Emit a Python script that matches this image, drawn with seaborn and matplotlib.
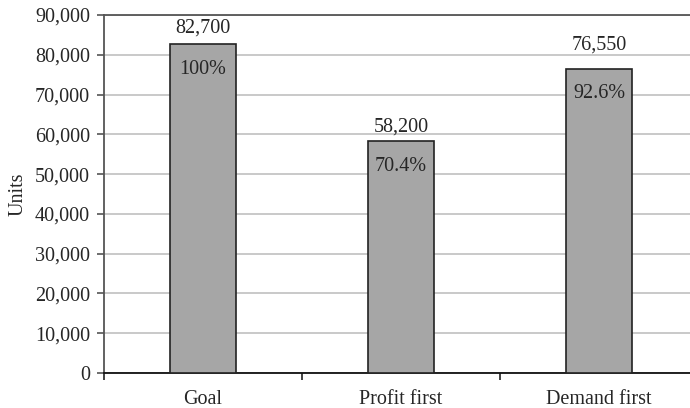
import matplotlib
matplotlib.use("Agg")
import matplotlib.pyplot as plt
import seaborn as sns
import pandas as pd
from matplotlib.ticker import FuncFormatter

categories = ["Goal", "Profit first", "Demand first"]
units = [82700, 58200, 76550]
percent_labels = ["100%", "70.4%", "92.6%"]

# vertical gap (points) between bar top and the value label baseline
value_label_gap = [8, 7.5, 14]

sns.set_style("white")
plt.rcParams["font.family"] = ["Liberation Serif", "DejaVu Serif"]
FS = 14.5

df = pd.DataFrame({"scenario": categories, "units": units})

fig = plt.figure(figsize=(6.9, 4.08), dpi=100)
ax = fig.add_axes([104 / 690, 35 / 408, 594 / 690, 358 / 408])

sns.barplot(data=df, x="scenario", y="units", color="#a6a6a6", width=0.33,
            edgecolor="#222222", linewidth=1.2, saturation=1, ax=ax, zorder=3)

ax.set_ylim(0, 90000)
ax.set_yticks(range(0, 90001, 10000))
ax.yaxis.set_major_formatter(FuncFormatter(lambda v, p: f"{int(v):,}"))
ax.set_xlim(-0.5, 2.5)
ax.grid(axis="y", color="#c0c0c0", linewidth=1.2, zorder=0)
ax.set_axisbelow(True)

ax.spines["right"].set_visible(False)
ax.spines["top"].set_color("#555555")
ax.spines["top"].set_linewidth(1.3)
ax.spines["left"].set_color("#555555")
ax.spines["left"].set_linewidth(1.3)
ax.spines["bottom"].set_color("#111111")
ax.spines["bottom"].set_linewidth(1.3)

ax.set_xlabel("")
ax.set_ylabel("Units", fontsize=FS, labelpad=5)

# category names centred under the bars, tick marks on the boundaries
ax.set_xticks([0, 1, 2])
ax.set_xticklabels(categories, fontsize=FS)
ax.tick_params(axis="x", which="major", length=0, pad=12, bottom=True)
ax.set_xticks([-0.5, 0.5, 1.5, 2.5], minor=True)
ax.tick_params(axis="x", which="minor", length=5, width=1.3, color="#333333",
               direction="out", bottom=True)
ax.tick_params(axis="y", length=5, width=1.2, color="#555555", direction="out",
               labelsize=FS, pad=5, left=True)

for i, (v, pct, gap) in enumerate(zip(units, percent_labels, value_label_gap)):
    ax.annotate(f"{v:,}", (i, v), xytext=(0, gap), textcoords="offset points",
                ha="center", va="baseline", fontsize=FS)
    ax.annotate(pct, (i, v), xytext=(0, -21.5), textcoords="offset points",
                ha="center", va="baseline", fontsize=FS)

fig.savefig("out.png", dpi=100)
